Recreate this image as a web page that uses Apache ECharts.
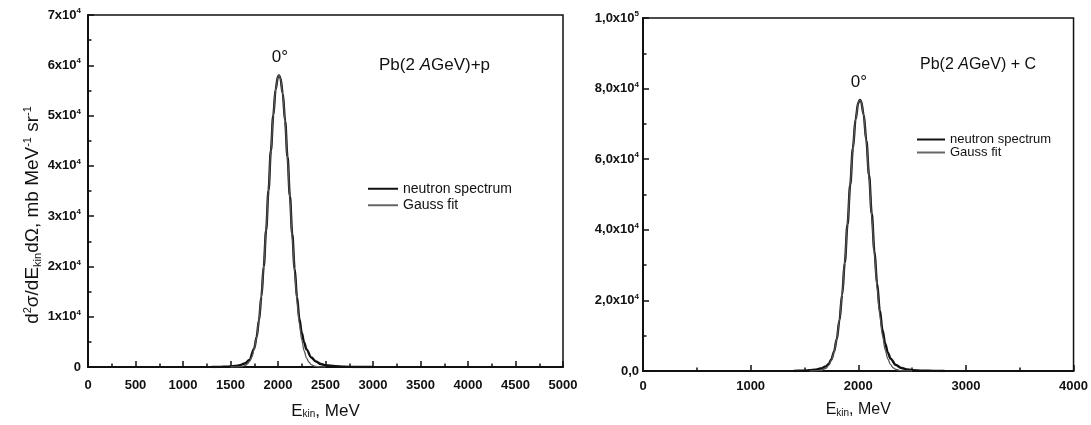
<!DOCTYPE html>
<html><head><meta charset="utf-8">
<script src="https://cdn.jsdelivr.net/npm/echarts@6/dist/echarts.min.js"></script>
<style>html,body{margin:0;padding:0;background:#fff}#c{width:1091px;height:425px}</style>
</head><body><div id="c"></div>
<script>
// ---- Left panel: Pb(2 AGeV)+p ----
const leftNeutronE = [1300,1400,1450,1500,1550,1600,1650,1700,1750,1775,1800,1825,1850,1875,1900,1925,1950,1975,2000,2010,2025,2050,2075,2100,2125,2150,2175,2200,2225,2250,2275,2300,2350,2400,2450,2500,2600,2700,2800,2900,3000];
const leftNeutronY = [0,30,60,110,200,380,700,1400,3700,6000,9300,14000,20000,27200,35100,43000,50000,55200,57800,58000,57500,54400,48900,41800,34000,26400,19600,13900,9600,6800,4900,3500,1900,1100,600,350,150,50,10,3,0];
const leftGaussE = [1500,1525,1550,1575,1600,1625,1650,1675,1700,1725,1750,1775,1800,1825,1850,1875,1900,1925,1950,1975,2000,2010,2025,2050,2075,2100,2125,2150,2175,2200,2225,2250,2275,2300,2325,2350,2375,2400,2425,2450,2500];
const leftGaussY = [1,4,9,23,56,127,272,561,1095,2020,3550,5930,9390,14100,20130,27320,35180,43020,50000,55130,57760,58000,57460,54290,48700,41480,33590,25800,18830,13060,8580,5370,3190,1800,961,487,236,109,47,19,2];

// ---- Right panel: Pb(2 AGeV) + C ----
const rightNeutronE = [1400,1450,1500,1550,1600,1650,1700,1725,1750,1775,1800,1825,1850,1875,1900,1925,1950,1975,2000,2015,2025,2050,2075,2100,2125,2150,2175,2200,2225,2250,2275,2300,2350,2400,2450,2500,2600,2700,2800];
const rightNeutronY = [20,50,100,200,380,700,1300,2000,3300,5500,9000,14300,21600,30800,41500,52700,63100,71300,76000,76800,76500,72700,65300,55500,44600,34000,24800,17200,11600,7800,5200,3500,1700,850,450,250,90,30,0];
const rightGaussE = [1550,1600,1650,1700,1725,1750,1775,1800,1825,1850,1875,1900,1925,1950,1975,2000,2015,2025,2050,2075,2100,2125,2150,2175,2200,2225,2250,2275,2300,2325,2350,2400,2450,2500];
const rightGaussY = [3,27,163,780,1570,2990,5360,9070,14480,21810,31030,41670,52820,63180,71320,76010,76800,76450,72580,65030,55000,43900,33070,23520,15780,10000,5980,3370,1800,905,429,81,12,0];

// ---- Tick labels ----
const leftYTickLabels = ['0','1x10^4','2x10^4','3x10^4','4x10^4','5x10^4','6x10^4','7x10^4'];
const rightYTickLabels = ['0,0','2,0x10^4','4,0x10^4','6,0x10^4','8,0x10^4','1,0x10^5'];
const seriesNames = ['neutron spectrum','Gauss fit'];

const FONT = '"Liberation Sans", Arial, Helvetica, sans-serif';
const INK = '#111';
const zip = (a, b) => a.map((v, i) => [v, b[i]]);
const supLabel = (labels, step) => v => {
  const s = labels[Math.round(v / step)];
  if (s === undefined) return '';
  const p = s.split('^');
  return p.length > 1 ? '{b|' + p[0] + '}{s|' + p[1] + '}' : '{b|' + p[0] + '}';
};
const tickRich = {
  b: {fontSize: 13, color: INK, fontFamily: FONT, fontWeight: 'bold'},
  s: {fontSize: 8, color: INK, fontFamily: FONT, fontWeight: 'bold', padding: [0, 0, 8, 0]}
};
const nameRich = (fs) => ({
  n: {fontSize: fs, color: INK, fontFamily: FONT},
  sub: {fontSize: Math.round(fs * 0.6), color: INK, fontFamily: FONT, padding: [fs * 0.45, 0, 0, 0]}
});

function xAxis(grid, max, interval, gap, fs, margin) {
  return {
    type: 'value', gridIndex: grid, min: 0, max: max, interval: interval,
    axisLine: {show: true, onZero: false, lineStyle: {color: INK, width: 2}},
    axisTick: {show: true, inside: true, length: 6, lineStyle: {color: INK, width: 1.5}},
    minorTick: {show: true, splitNumber: 2, length: 3.5, lineStyle: {color: INK, width: 1.5}},
    splitLine: {show: false}, minorSplitLine: {show: false},
    axisLabel: {margin: margin, fontSize: 13, fontWeight: 'bold', color: INK, fontFamily: FONT, formatter: v => String(v)},
    name: '{n|E}{sub|kin}{n|, MeV}', nameLocation: 'middle', nameGap: gap,
    nameTextStyle: {rich: nameRich(fs)}
  };
}
function yAxis(grid, max, interval, labels, margin) {
  return {
    type: 'value', gridIndex: grid, min: 0, max: max, interval: interval,
    axisLine: {show: true, onZero: false, lineStyle: {color: INK, width: 2}},
    axisTick: {show: true, inside: true, length: 6, lineStyle: {color: INK, width: 1.5}},
    minorTick: {show: true, splitNumber: 2, length: 3.5, lineStyle: {color: INK, width: 1.5}},
    splitLine: {show: false}, minorSplitLine: {show: false},
    axisLabel: {margin: margin, formatter: supLabel(labels, interval), rich: tickRich}
  };
}
function line(name, x, y, xi, isFit) {
  return {
    type: 'line', name: name, xAxisIndex: xi, yAxisIndex: xi,
    data: zip(x, y), showSymbol: false, smooth: 0.35, smoothMonotone: 'x',
    lineStyle: {color: isFit ? '#555' : INK, width: isFit ? 1.3 : 2.4},
    itemStyle: {color: isFit ? '#555' : INK},
    z: isFit ? 3 : 2, silent: true, animation: false
  };
}

const chart = echarts.init(document.getElementById('c'), null, {renderer: 'canvas'});
chart.setOption({
  animation: false,
  backgroundColor: '#fff',
  grid: [
    {left: 88, top: 15, width: 475, height: 352, show: true, borderColor: INK, borderWidth: 1.5, backgroundColor: 'transparent'},
    {left: 643, top: 18, width: 431, height: 353, show: true, borderColor: INK, borderWidth: 1.5, backgroundColor: 'transparent'}
  ],
  xAxis: [xAxis(0, 5000, 500, 35, 17, 12), xAxis(1, 4000, 1000, 30, 16, 9)],
  yAxis: [yAxis(0, 70000, 10000, leftYTickLabels, 7), yAxis(1, 100000, 20000, rightYTickLabels, 4)],
  legend: [
    {orient: 'vertical', left: 363, top: 176, selectedMode: false, itemWidth: 30, itemHeight: 2, itemGap: 1,
     textStyle: {fontSize: 14, color: INK, fontFamily: FONT, lineHeight: 15.5},
     data: [{name: seriesNames[0], icon: 'rect'}, {name: seriesNames[1], icon: 'rect', itemStyle: {color: '#666'}}]},
    {orient: 'vertical', left: 912, top: 128, selectedMode: false, itemWidth: 28, itemHeight: 2, itemGap: 0,
     textStyle: {fontSize: 13, color: INK, fontFamily: FONT, lineHeight: 11},
     data: [{name: seriesNames[0], icon: 'rect'}, {name: seriesNames[1], icon: 'rect', itemStyle: {color: '#666'}}]}
  ],
  series: [
    line(seriesNames[0], leftNeutronE, leftNeutronY, 0, false),
    line(seriesNames[1], leftGaussE, leftGaussY, 0, true),
    line(seriesNames[0], rightNeutronE, rightNeutronY, 1, false),
    line(seriesNames[1], rightGaussE, rightGaussY, 1, true)
  ],
  graphic: [
    {type: 'text', x: 280, y: 57, style: {text: '0°', font: '17px ' + FONT, fill: INK, align: 'center', verticalAlign: 'middle'}},
    {type: 'text', x: 859, y: 82, style: {text: '0°', font: '17px ' + FONT, fill: INK, align: 'center', verticalAlign: 'middle'}},
    {type: 'text', x: 379, y: 65, style: {
      text: '{n|Pb(2 }{i|A}{n|GeV)+p}', align: 'left', verticalAlign: 'middle',
      rich: {n: {fontSize: 17, fontFamily: FONT, fill: INK}, i: {fontSize: 17, fontFamily: FONT, fontStyle: 'italic', fill: INK}}}},
    {type: 'text', x: 920, y: 65, style: {
      text: '{n|Pb(2 }{i|A}{n|GeV) + C}', align: 'left', verticalAlign: 'middle',
      rich: {n: {fontSize: 16, fontFamily: FONT, fill: INK}, i: {fontSize: 16, fontFamily: FONT, fontStyle: 'italic', fill: INK}}}},
    {type: 'text', x: 33, y: 215, rotation: Math.PI / 2, style: {
      text: '{n|d}{sup|2}{n|σ/dE}{sub|kin}{n|dΩ, mb MeV}{sup|-1}{n| sr}{sup|-1}', align: 'center', verticalAlign: 'middle',
      rich: {
        n: {fontSize: 19, fontFamily: FONT, fill: INK},
        sup: {fontSize: 11, fontFamily: FONT, fill: INK, padding: [0, 0, 10, 0]},
        sub: {fontSize: 11, fontFamily: FONT, fill: INK, padding: [9, 0, 0, 0]}
      }}}
  ]
});
</script></body></html>
